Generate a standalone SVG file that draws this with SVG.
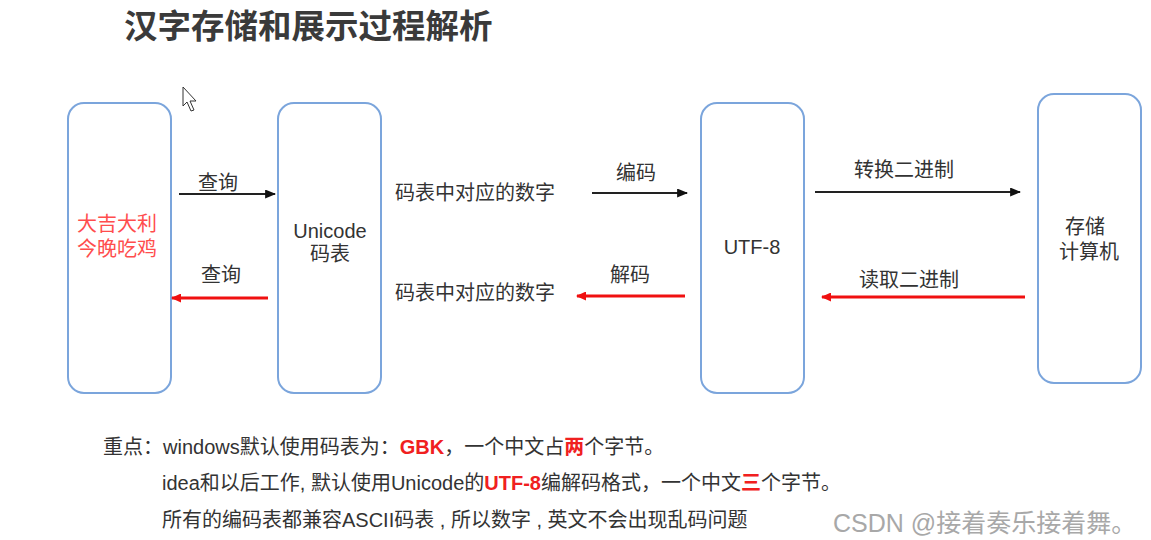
<svg xmlns="http://www.w3.org/2000/svg" width="1151" height="540" viewBox="0 0 1151 540">
<style>
.box{fill:#fff;stroke:#7ba5dc;stroke-width:2}
.t{font-family:"Liberation Sans","Noto Sans CJK SC",sans-serif;font-size:20px;fill:#333}
.c{text-anchor:middle}
.blk{stroke:#222;stroke-width:2;fill:none}
.red{stroke:#f01010;stroke-width:3;fill:none}
.r{fill:#f02020;font-weight:bold}
</style>
<defs>
<marker id="ab" viewBox="0 0 10 10" refX="9" refY="5" markerWidth="11" markerHeight="9" markerUnits="userSpaceOnUse" orient="auto" preserveAspectRatio="none"><path d="M0,0 L10,5 L0,10 Z" fill="#111"/></marker>
<marker id="ar" viewBox="0 0 10 10" refX="9" refY="5" markerWidth="10" markerHeight="9" markerUnits="userSpaceOnUse" orient="auto" preserveAspectRatio="none"><path d="M0,0 L10,5 L0,10 Z" fill="#f01010"/></marker>
</defs>
<rect width="1151" height="540" fill="#fff"/>
<text x="124" y="38" style="font-family:'Noto Sans CJK SC',sans-serif;font-size:33.5px;font-weight:bold;fill:#3a3a3a">汉字存储和展示过程解析</text>
<path d="M183,87 L183,106 L187,102 L191,111 L194,110 L190,101 L196,101 Z" fill="#fff" stroke="#333" stroke-width="1"/>
<g id="n1"><rect class="box" x="68" y="103" width="103" height="290" rx="16"/>
<text class="t c" x="117" y="231" style="fill:#ff4d4d">大吉大利</text>
<text class="t c" x="117" y="256" style="fill:#ff4d4d">今晚吃鸡</text></g>
<g id="n2"><rect class="box" x="278" y="103" width="103" height="290" rx="16"/>
<text class="t c" x="330" y="238">Unicode</text>
<text class="t c" x="330" y="261">码表</text></g>
<g id="n3"><rect class="box" x="701" y="103" width="103" height="290" rx="16"/>
<text class="t c" x="752" y="254">UTF-8</text></g>
<g id="n4"><rect class="box" x="1038" y="94" width="103" height="289" rx="16"/>
<text class="t c" x="1085" y="234">存储</text>
<text class="t c" x="1089" y="259">计算机</text></g>
<g id="connectors">
<line class="blk" x1="179" y1="194" x2="275" y2="194" marker-end="url(#ab)"/>
<line class="red" x1="268" y1="298" x2="172" y2="298" marker-end="url(#ar)"/>
<line class="blk" x1="592" y1="193" x2="687" y2="193" marker-end="url(#ab)"/>
<line class="red" x1="685" y1="296" x2="577" y2="296" marker-end="url(#ar)"/>
<line class="blk" x1="815" y1="192" x2="1020" y2="192" marker-end="url(#ab)"/>
<line class="red" x1="1025" y1="297" x2="822" y2="297" marker-end="url(#ar)"/>
</g>
<g id="labels">
<text class="t c" x="218" y="190">查询</text>
<text class="t c" x="221" y="282">查询</text>
<text class="t" x="395" y="200">码表中对应的数字</text>
<text class="t" x="395" y="300">码表中对应的数字</text>
<text class="t c" x="636" y="180">编码</text>
<text class="t c" x="630" y="282">解码</text>
<text class="t c" x="904" y="177">转换二进制</text>
<text class="t c" x="909" y="287">读取二进制</text>
</g>
<g id="notes">
<text class="t" x="103" y="454">重点：windows默认使用码表为：<tspan class="r">GBK</tspan>，一个中文占<tspan class="r">两</tspan>个字节。</text>
<text class="t" x="162" y="490">idea和以后工作, 默认使用Unicode的<tspan class="r">UTF-8</tspan>编解码格式，一个中文<tspan class="r">三</tspan>个字节。</text>
<text class="t" x="162" y="527">所有的编码表都兼容ASCII码表 , 所以数字 , 英文不会出现乱码问题</text>
</g>
<text x="833" y="532" style="font-family:'Liberation Sans','Noto Sans CJK SC',sans-serif;font-size:25px;fill:#a8a8a8">CSDN @接着奏乐接着舞。</text>
</svg>
